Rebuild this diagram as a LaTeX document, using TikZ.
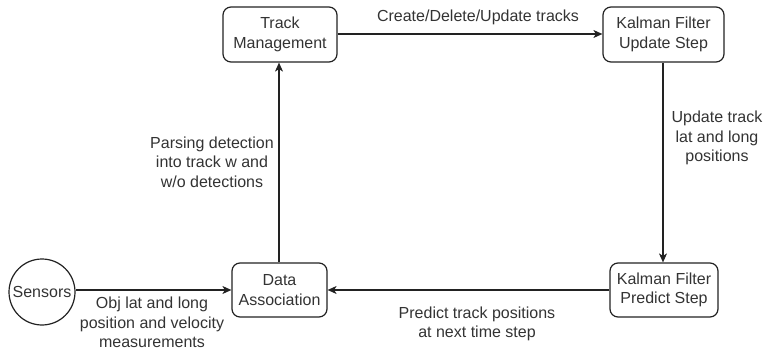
\documentclass[tikz,border=0pt]{standalone}
\usepackage{fontspec}
\setmainfont{Liberation Sans}
\usetikzlibrary{arrows.meta}
\definecolor{ink}{HTML}{222222}
\definecolor{txt}{HTML}{333333}
\begin{document}
\begin{tikzpicture}[x=1pt,y=-1pt,
  every node/.style={font=\fontsize{16}{19.5}\selectfont, text=txt},
  box/.style={draw=ink, line width=1.2pt, rounded corners=8pt, align=center, inner sep=0pt},
  lbl/.style={align=center, inner sep=0pt},
  conn/.style={draw=ink, line width=1.2pt, -{Stealth[length=9pt,width=8pt,inset=2.5pt]}}
]
\useasboundingbox (0,0) rectangle (764,350);
\node[draw=ink, line width=1.2pt, circle, minimum size=66pt, inner sep=0pt] (sens) at (42,292) {Sensors};
\node[box, minimum width=95pt, minimum height=54pt] (da) at (279.5,290) {Data\\Association};
\node[box, minimum width=114pt, minimum height=55pt] (tm) at (280,34.5) {Track\\Management};
\node[box, minimum width=121pt, minimum height=55pt] (ku) at (663.5,34.5) {Kalman Filter\\Update Step};
\node[box, minimum width=108pt, minimum height=54pt] (kp) at (664,290) {Kalman Filter\\Predict Step};

\draw[conn] (sens.east |- 0,290) -- (da.west |- 0,290);
\draw[conn] (da.north -| 279,0) -- (tm.south -| 279,0);
\draw[conn] (tm.east |- 0,34) -- (ku.west |- 0,34);
\draw[conn] (ku.south -| 663,0) -- (kp.north -| 663,0);
\draw[conn] (kp.west |- 0,290) -- (da.east |- 0,290);

\node[lbl] (l1) at (152,322.5) {Obj lat and long\\position and velocity\\measurements};
\node[lbl] (l2) at (212,162) {Parsing detection\\into track w and\\w/o detections};
\node[lbl] (l3) at (478,17) {Create/Delete/Update tracks};
\node[lbl] (l4) at (717,138) {Update track\\lat and long\\positions};
\node[lbl] (l5) at (477,324) {Predict track positions\\at next time step};
\end{tikzpicture}
\end{document}
